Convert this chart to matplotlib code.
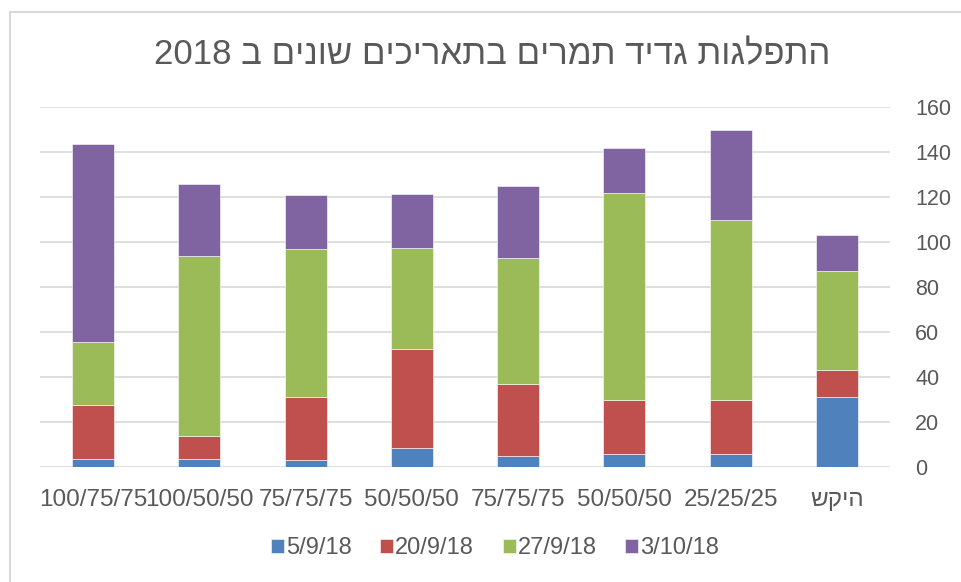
"""
Stacked bar chart of date harvest distribution by treatment, 2018.
"""
import matplotlib

matplotlib.use("Agg")
import matplotlib.pyplot as plt
import numpy as np
from matplotlib.patches import Rectangle

plt.rcParams["font.family"] = ["Liberation Sans", "DejaVu Sans"]

TITLE = "התפלגות גדיד תמרים בתאריכים שונים ב 2018"
categories = ["100/75/75", "100/50/50", "75/75/75", "50/50/50",
              "75/75/75", "50/50/50", "25/25/25", "היקש"]
dates = ["5/9/18", "20/9/18", "27/9/18", "3/10/18"]

harvest_5_9 = [3.5, 3.5, 3, 8.5, 5, 6, 6, 31]
harvest_20_9 = [24, 10.5, 28, 44, 32, 24, 24, 12]
harvest_27_9 = [28, 80, 66, 45, 56, 92, 80, 44]
harvest_3_10 = [88, 32, 24, 24, 32, 20, 40, 16]

colors = ["#4F81BD", "#C0504D", "#9BBB59", "#8064A2"]
TEXT = "#595959"
GRID = "#D9D9D9"


def visual(s):
    """matplotlib has no bidi: flip word order and the letters of Hebrew words."""
    out = []
    for tok in reversed(s.split(" ")):
        if any("\u0590" <= ch <= "\u05FF" for ch in tok):
            tok = tok[::-1]
        out.append(tok)
    return " ".join(out)


W, H = 961, 582
fig = plt.figure(figsize=(W / 100, H / 100), dpi=100)
fig.patches.append(Rectangle((10 / W, -0.1), 1.2, 1.1 - 12 / H,
                             transform=fig.transFigure, fill=False,
                             edgecolor="#D9D9D9", linewidth=1.5))

ax = fig.add_axes([40 / W, 1 - 467 / H, 850 / W, (467 - 107.3) / H])

series = [harvest_5_9, harvest_20_9, harvest_27_9, harvest_3_10]
x = np.arange(len(categories))
bottom = np.zeros(len(categories))
for vals, col, lab in zip(series, colors, dates):
    ax.bar(x, vals, width=0.395, bottom=bottom, color=col, label=lab,
           edgecolor="white", linewidth=0.4, zorder=3)
    bottom += np.array(vals)

ax.set_xlim(-0.5, len(categories) - 0.5)
ax.set_ylim(0, 160)
ax.set_yticks(range(0, 161, 20))
ax.yaxis.tick_right()
ax.grid(axis="y", color=GRID, linewidth=1.2, zorder=0)
ax.set_axisbelow(True)
for sp in ax.spines.values():
    sp.set_visible(False)
ax.tick_params(axis="both", length=0, colors=TEXT)
ax.tick_params(axis="y", labelsize=15.5, pad=18)
ax.set_xticks(x)
ax.set_xticklabels([visual(c) for c in categories], fontsize=17.5, color=TEXT)
ax.tick_params(axis="x", pad=16)

fig.text(492 / W, 1 - 55 / H, visual(TITLE), ha="center", va="center",
         fontsize=25, color=TEXT)

ax.legend(loc="center", bbox_to_anchor=(495 / W, 1 - 548 / H),
          bbox_transform=fig.transFigure, ncol=4, frameon=False,
          fontsize=17, labelcolor=TEXT, handlelength=0.55, handleheight=0.55,
          handletextpad=0.1, columnspacing=1.2)

fig.savefig("out.png", dpi=100)
